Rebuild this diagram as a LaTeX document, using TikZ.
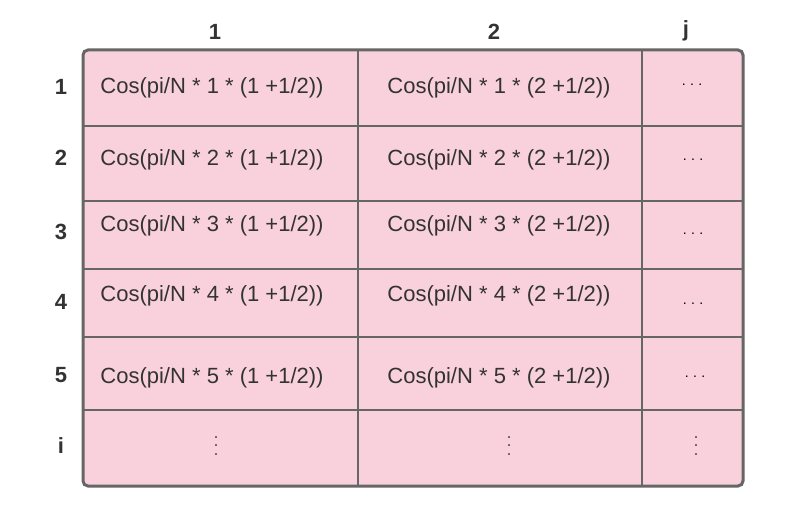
\documentclass[tikz,border=0pt]{standalone}
\usepackage{fontspec}
\setmainfont{Liberation Sans}
\usepackage{tikz}
\usetikzlibrary{positioning}
\definecolor{cellpink}{HTML}{F9D1DC}
\definecolor{linegrey}{HTML}{666666}
\definecolor{textgrey}{HTML}{333333}
\newcommand{\celldots}{.\kern4.3pt.\kern4.3pt.}

\begin{document}
\begin{tikzpicture}[x=1pt, y=-1pt,
    cell/.style={text=textgrey, font=\fontsize{22}{24}\selectfont, inner sep=0pt},
    head/.style={text=textgrey, font=\bfseries\fontsize{22}{24}\selectfont, inner sep=0pt},
    dots/.style={text=black, font=\fontsize{14}{16}\selectfont, inner sep=0pt}]
    \useasboundingbox (0,0) rectangle (799,518);
    % table body
    \draw [fill=cellpink, draw=linegrey, line width=3pt, rounded corners=5pt] (83,50) rectangle (743,486);
    \foreach \y in {126,201,269,337,410}
        \draw [linegrey, line width=2pt] (83,\y) -- (743,\y);
    \foreach \x in {358,642}
        \draw [linegrey, line width=2pt] (\x,50) -- (\x,486);
    % column and row headers
    \node [head] (Col1) at (215,32) {1};
    \node [head] (Col2) at (494,32) {2};
    \node [head] (ColJ) at (686,31) {j};
    \node [head] (Row1) at (61,87) {1};
    \node [head] (Row2) at (61,158) {2};
    \node [head] (Row3) at (61,232) {3};
    \node [head] (Row4) at (61,302) {4};
    \node [head] (Row5) at (61,375) {5};
    \node [head] (RowI) at (61,446) {i};
    % cells
    \node [cell] (A11) at (212,88) {Cos(pi/N * 1 * (1 +1/2))};
    \node [cell] (A12) at (499,88) {Cos(pi/N * 1 * (2 +1/2))};
    \node [cell] (A21) at (212,160) {Cos(pi/N * 2 * (1 +1/2))};
    \node [cell] (A22) at (499,160) {Cos(pi/N * 2 * (2 +1/2))};
    \node [cell] (A31) at (212,226) {Cos(pi/N * 3 * (1 +1/2))};
    \node [cell] (A32) at (499,226) {Cos(pi/N * 3 * (2 +1/2))};
    \node [cell] (A41) at (212,296) {Cos(pi/N * 4 * (1 +1/2))};
    \node [cell] (A42) at (499,296) {Cos(pi/N * 4 * (2 +1/2))};
    \node [cell] (A51) at (212,378) {Cos(pi/N * 5 * (1 +1/2))};
    \node [cell] (A52) at (499,378) {Cos(pi/N * 5 * (2 +1/2))};
    % ellipses
    \node [dots] (A1J) at (692,85) {\celldots};
    \node [dots] (A2J) at (693,160) {\celldots};
    \node [dots] (A3J) at (693,234) {\celldots};
    \node [dots] (A4J) at (693,304) {\celldots};
    \node [dots] (A5J) at (695,377) {\celldots};
    \node [dots, rotate=90] (AI1) at (216,446) {\celldots};
    \node [dots, rotate=90] (AI2) at (509,446) {\celldots};
    \node [dots, rotate=90] (AIJ) at (696,446) {\celldots};
\end{tikzpicture}
\end{document}
